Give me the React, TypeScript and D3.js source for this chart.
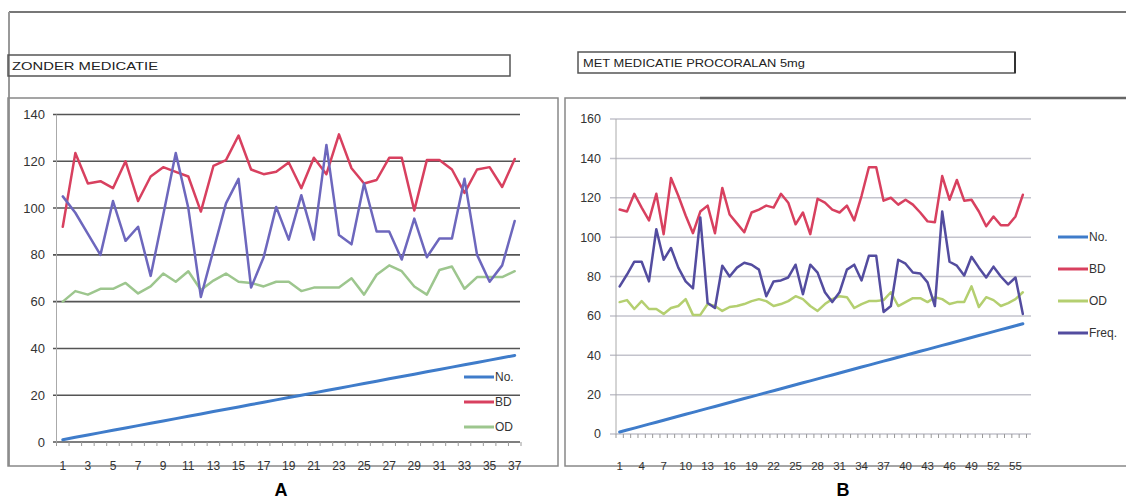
import React from "react";
import * as d3 from "d3";

// ---------- DATA ----------
const titleA = "ZONDER MEDICATIE";
const titleB = "MET MEDICATIE PROCORALAN 5mg";

const noA = [1,2,3,4,5,6,7,8,9,10,11,12,13,14,15,16,17,18,19,20,21,22,23,24,25,26,27,28,29,30,31,32,33,34,35,36,37];
const bdA = [92,123.5,110.5,111.5,108.5,120,103,113.5,117.5,115.5,113.5,98.5,118,120.5,131,116.5,114.5,115.5,119.5,108.5,121.5,114.5,131.5,117,110.5,112,121.5,121.5,99,120.5,120.5,116.5,106.5,116.5,117.5,109,121];
const odA = [60,64.5,63,65.5,65.5,68,63.5,66.5,72,68.5,73,65,69,72,68.5,68,66.5,68.5,68.5,64.5,66,66,66,70,63,71.5,75.5,73,66.5,63,73.5,75,65.5,70.5,70.5,70.5,73];
const freqA = [105,98,89,80,103,86,92,71,97,123.5,100,62,82,102,112.5,66,79,100.5,86.5,105.5,86.5,127,88.5,84.5,110.5,90,90,78,95.5,79,87,87,112.5,80,68.5,75.5,94.5];

const noB = [1,2,3,4,5,6,7,8,9,10,11,12,13,14,15,16,17,18,19,20,21,22,23,24,25,26,27,28,29,30,31,32,33,34,35,36,37,38,39,40,41,42,43,44,45,46,47,48,49,50,51,52,53,54,55,56];
const bdB = [114,113,122,115,108.5,122,101.5,130,121,111,102,113,116,102,125,111.5,107,102.5,112.5,114,116,115,122,117.5,106.5,112.5,101.5,119.5,117.5,114,112.5,116,108.5,121,135.5,135.5,118.5,120,116.5,119,116.5,112.5,108,107.5,131,119,129,118.5,119,113,105.5,110.5,106,106,110.5,121.5];
const odB = [67,68,63.5,67.5,63.5,63.5,61,64,65,68.5,60.5,60.5,66,65,62.5,64.5,65,66,67.5,68.5,67.5,65,66,67.5,70,68.5,65,62.5,66,68.5,70,69.5,64,66,67.5,67.5,68,72,65,67,69,69,67,69.5,68.5,66,67,67,75,64.5,69.5,68,65,66.5,68.5,72];
const freqB = [75,81,87.5,87.5,77.5,104,88.5,94.5,84.5,77.5,74,110,66.5,64,85.5,80,84.5,87,86,83.5,70,77.5,78,79.5,86,71,86,82,72,67,72,83.5,86,78,90.5,90.5,62,65,88.5,86.5,82,81.5,77,65,113,87.5,85.5,80.5,90,84.5,79.5,85,80,76,79.5,61];

const yTicksA = [0,20,40,60,80,100,120,140];
const yTicksB = [0,20,40,60,80,100,120,140,160];
const legendA = ["No.", "BD", "OD"];
const legendB = ["No.", "BD", "OD", "Freq."];

const FONT = "'Liberation Sans', Arial, sans-serif";

type Series = { name: string; values: number[]; color: string; width: number };

function Panel(props: {
  cats: number[];
  series: Series[];
  yTicks: number[];
  xRange: [number, number];
  yRange: [number, number];
  gridX: [number, number];
  grid: string;
  gridW: number;
  labelX: number;
  labelSize: number;
  xLabelEvery: number;
  xLabelY: number;
  legendNames: string[];
  legendX: number;
  legendY: number[];
  legendColors: string[];
}) {
  const p = props;
  const x = d3.scalePoint<number>().domain(p.cats).range(p.xRange).padding(0.5);
  const y = d3.scaleLinear().domain([0, p.yTicks[p.yTicks.length - 1]]).range(p.yRange);
  const line = (vals: number[]) =>
    d3.line<number>().x((_, i) => x(p.cats[i]) as number).y((v) => y(v))(vals) || "";
  const step = x.step();
  return (
    <g>
      {p.yTicks.map((t) => (
        <g key={t}>
          <line x1={p.gridX[0]} x2={p.gridX[1]} y1={y(t)} y2={y(t)} stroke={p.grid} strokeWidth={p.gridW} />
          <text x={p.labelX} y={y(t)} dy="0.35em" textAnchor="end" fontSize={p.labelSize} fill="#333" fontFamily={FONT}>{t}</text>
        </g>
      ))}
      <line x1={p.xRange[0]} x2={p.xRange[0]} y1={y(p.yTicks[p.yTicks.length - 1])} y2={y(0)} stroke="#aaa" strokeWidth={1} />
      {d3.range(p.cats.length + 1).map((i) => (
        <line key={"t" + i} x1={p.xRange[0] + i * step} x2={p.xRange[0] + i * step} y1={y(0)} y2={y(0) + 4} stroke="#999" strokeWidth={1} />
      ))}
      {p.cats.map((c, i) =>
        i % p.xLabelEvery === 0 ? (
          <text key={"x" + c} x={x(c)} y={p.xLabelY} dy="0.35em" textAnchor="middle" fontSize={p.labelSize - 1} fill="#333" fontFamily={FONT}>{c}</text>
        ) : null
      )}
      {p.series.map((s) => (
        <path key={s.name} d={line(s.values)} fill="none" stroke={s.color} strokeWidth={s.width} strokeLinejoin="round" strokeLinecap="round" />
      ))}
      {p.legendNames.map((n, i) => (
        <g key={n}>
          <line x1={p.legendX} x2={p.legendX + 30} y1={p.legendY[i]} y2={p.legendY[i]} stroke={p.legendColors[i]} strokeWidth={3} />
          <text x={p.legendX + 31} y={p.legendY[i]} dy="0.35em" fontSize={12} fill="#333" fontFamily={FONT}>{n}</text>
        </g>
      ))}
    </g>
  );
}

export default function App() {
  const cBlue = "#3f7cca";
  const cRed = "#d8405f";
  const cGreenA = "#9dc68e";
  const cGreenB = "#b4cf70";
  const cPurpA = "#6d67bd";
  const cPurpB = "#534c9f";
  return (
    <svg width={1126} height={504} style={{ position: "absolute", left: 0, top: 0, background: "#fff" }}>
      <rect x={0} y={0} width={1126} height={504} fill="#fff" />
      {/* outer frame */}
      <line x1={9} x2={1126} y1={12} y2={12} stroke="#777" strokeWidth={2} />
      <line x1={9} x2={9} y1={12} y2={466} stroke="#999" strokeWidth={2} />
      {/* title boxes */}
      <rect x={8} y={55} width={502} height={21} fill="none" stroke="#555" strokeWidth={1.5} />
      <text x={12} y={70} fontSize={11} fill="#222" fontFamily={FONT} textLength={146} lengthAdjust="spacingAndGlyphs">{titleA}</text>
      <rect x={578} y={52} width={437} height={21} fill="none" stroke="#555" strokeWidth={1.5} />
      <line x1={1015} x2={1015} y1={52} y2={73} stroke="#333" strokeWidth={2} />
      <text x={583} y={67} fontSize={11} fill="#222" fontFamily={FONT} textLength={222} lengthAdjust="spacingAndGlyphs">{titleB}</text>
      {/* panel frames */}
      <rect x={8} y={98} width={550} height={368} fill="none" stroke="#888" strokeWidth={1.5} />
      <rect x={565} y={98} width={565} height={368} fill="none" stroke="#888" strokeWidth={1.5} />
      <line x1={700} x2={1126} y1={98} y2={98} stroke="#666" strokeWidth={2.5} />

      <Panel
        cats={noA}
        series={[
          { name: "No.", values: noA, color: cBlue, width: 3 },
          { name: "BD", values: bdA, color: cRed, width: 2.5 },
          { name: "OD", values: odA, color: cGreenA, width: 2.5 },
          { name: "Freq.", values: freqA, color: cPurpA, width: 2.5 },
        ]}
        yTicks={yTicksA}
        xRange={[56.5, 521]}
        yRange={[442, 114.5]}
        gridX={[53, 520]}
        grid="#555"
        gridW={1.6}
        labelX={45}
        labelSize={13}
        xLabelEvery={2}
        xLabelY={466}
        legendNames={legendA}
        legendX={464}
        legendY={[377, 402, 427]}
        legendColors={[cBlue, cRed, cGreenA]}
      />
      <Panel
        cats={noB}
        series={[
          { name: "No.", values: noB, color: cBlue, width: 3 },
          { name: "BD", values: bdB, color: cRed, width: 2.5 },
          { name: "OD", values: odB, color: cGreenB, width: 2.5 },
          { name: "Freq.", values: freqB, color: cPurpB, width: 2.5 },
        ]}
        yTicks={yTicksB}
        xRange={[616, 1026.5]}
        yRange={[434, 119]}
        gridX={[610, 1031]}
        grid="#c3c3cc"
        gridW={1.5}
        labelX={601}
        labelSize={12.5}
        xLabelEvery={3}
        xLabelY={466}
        legendNames={legendB}
        legendX={1058}
        legendY={[237, 269, 301, 333]}
        legendColors={[cBlue, cRed, cGreenB, cPurpB]}
      />
      <text x={281} y={490} dy="0.35em" textAnchor="middle" fontSize={18} fontWeight="bold" fill="#000" fontFamily={FONT}>A</text>
      <text x={843} y={490} dy="0.35em" textAnchor="middle" fontSize={18} fontWeight="bold" fill="#000" fontFamily={FONT}>B</text>
    </svg>
  );
}
